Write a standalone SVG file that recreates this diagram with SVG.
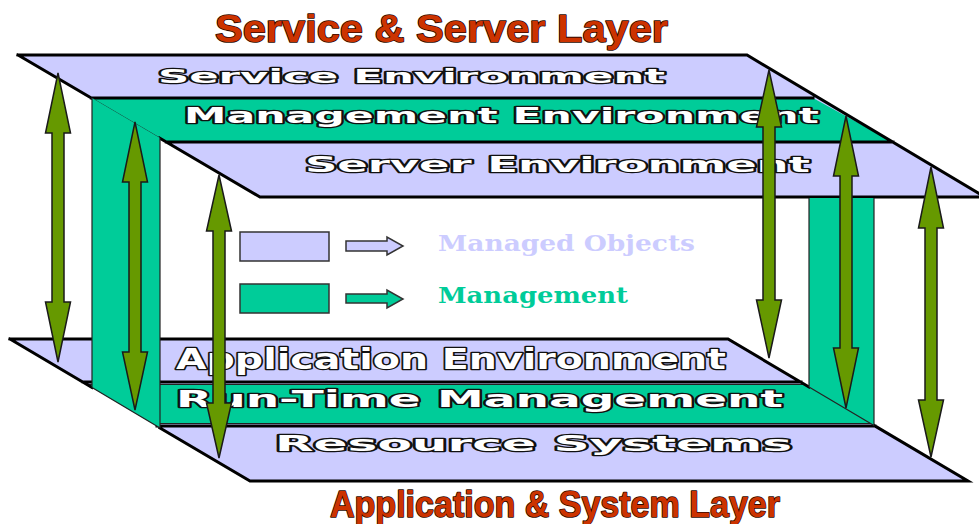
<svg xmlns="http://www.w3.org/2000/svg" width="979" height="524" viewBox="0 0 979 524">
  <style>
    .obj { fill: #CCCCFF; }
    .mgmt { fill: #00CC99; }
    .edge { fill: none; stroke: #000; stroke-width: 3; stroke-linecap: square; }
    .thin { fill: none; stroke: #222; stroke-width: 1.2; }
    .slab-label { font-family: "DejaVu Sans", "Liberation Sans", sans-serif; font-weight: bold; fill: #fff; stroke: #111; stroke-width: 2.6; paint-order: stroke; stroke-linejoin: round; }
    .layer-title { font-family: "Liberation Sans Narrow", "Liberation Sans", sans-serif; font-weight: bold; fill: #CC3300; stroke: #2a0800; stroke-width: 1.6; paint-order: stroke; stroke-linejoin: round; }
    .legend-box { stroke: #333; stroke-width: 1.5; }
    .legend-text { font-family: "DejaVu Serif", "Liberation Serif", serif; font-weight: bold; }
    .link { fill: #669900; stroke: #1a1a1a; stroke-width: 1.5; stroke-linejoin: miter; }
  </style>

  <!-- layer titles -->
  <g id="title-service-server">
    <text class="layer-title" x="215" y="42" font-size="39" textLength="453" lengthAdjust="spacingAndGlyphs">Service &amp; Server Layer</text>
  </g>
  <g id="title-application-system">
    <text class="layer-title" x="330" y="517" font-size="37" textLength="450" lengthAdjust="spacingAndGlyphs">Application &amp; System Layer</text>
  </g>

  <!-- upper slab: service / management / server -->
  <g id="service-environment">
    <polygon class="obj" points="18,55 747,55 985,197 260,197"/>
    <text class="slab-label" x="158" y="83" font-size="20" textLength="507" lengthAdjust="spacingAndGlyphs">Service Environment</text>
  </g>
  <g id="management-environment">
    <polygon class="mgmt" points="91.3,98 813,98 893,142 166.3,142"/>
    <text class="slab-label" x="184" y="123" font-size="21" textLength="635" lengthAdjust="spacingAndGlyphs">Management Environment</text>
  </g>
  <g id="server-environment">
    <text class="slab-label" x="305" y="172" font-size="21" textLength="505" lengthAdjust="spacingAndGlyphs">Server Environment</text>
  </g>
  <g id="upper-outline">
    <path class="edge" d="M18,55 H747 L985,197 M18,55 L91.3,98 M159.5,138 L260,197 H985 M91.3,98 H813 M166.3,142 H893"/>
    <path class="thin" d="M91.3,98 L159.5,138"/>
  </g>

  <!-- lower slab: application / run-time management / resources -->
  <g id="application-environment">
    <polygon class="obj" points="10,339 728,339 968,481 250,481"/>
    <text class="slab-label" x="176" y="369" font-size="28" textLength="550" lengthAdjust="spacingAndGlyphs">Application Environment</text>
  </g>
  <g id="run-time-management">
    <polygon class="mgmt" points="86,384 804,384 871.7,424 153.7,424"/>
    <path class="thin" d="M86,384.5 H804 M153.7,423.5 H871.7"/>
    <text class="slab-label" x="176" y="407" font-size="23" textLength="607" lengthAdjust="spacingAndGlyphs">Run-Time Management</text>
  </g>
  <g id="resource-systems">
    <text class="slab-label" x="275" y="451" font-size="22" textLength="517" lengthAdjust="spacingAndGlyphs">Resource Systems</text>
  </g>
  <g id="lower-outline">
    <path class="edge" d="M10,339 H728 L809,387 M874,425.4 L968,481 H250 L160,428 M10,339 L92,387.5 M83,382 H801 M157,426 H875"/>
  </g>

  <!-- management pillars linking both slabs -->
  <g id="left-pillar">
    <polygon class="mgmt" points="92,98 160,138 160,428 92,387.5"/>
    <path class="thin" d="M92,98 V387.5 M160,138 V428 M92,387.5 L160,428"/>
  </g>
  <g id="right-pillar">
    <polygon class="mgmt" points="809,198 874,198 874,425.4 809,387"/>
    <path class="thin" d="M809,198 V387 M874,198 V425.4 M809,387 L874,425.4"/>
  </g>

  <!-- legend -->
  <g id="legend-managed-objects">
    <rect class="obj legend-box" x="240" y="232" width="89" height="29"/>
    <path class="obj legend-box" d="M346,241 H387 V237 L403,246 L387,255 V251 H346 Z"/>
    <text class="legend-text" x="438" y="251" font-size="22" fill="#CCCCFF" textLength="257" lengthAdjust="spacingAndGlyphs">Managed Objects</text>
  </g>
  <g id="legend-management">
    <rect class="mgmt legend-box" x="240" y="284" width="89" height="29"/>
    <path class="mgmt legend-box" d="M346,294 H387 V290 L403,299 L387,308 V303 H346 Z"/>
    <text class="legend-text" x="438" y="303" font-size="22" fill="#00CC99" textLength="190" lengthAdjust="spacingAndGlyphs">Management</text>
  </g>

  <!-- two-way links between the layers -->
  <g id="connectors">
    <path class="link" d="M58,73 L70.5,133 L64,133 L64,302 L70.5,302 L58,362 L45.5,302 L52,302 L52,133 L45.5,133 Z"/>
    <path class="link" d="M135,122 L147.5,182 L141,182 L141,352 L147.5,352 L135,410 L122.5,352 L129,352 L129,182 L122.5,182 Z"/>
    <path class="link" d="M219,175 L231.5,231 L225,231 L225,403 L231.5,403 L219,458 L206.5,403 L213,403 L213,231 L206.5,231 Z"/>
    <path class="link" d="M769,70 L781.5,127 L775,127 L775,300 L781.5,300 L769,358 L756.5,300 L763,300 L763,127 L756.5,127 Z"/>
    <path class="link" d="M846,116 L858.5,176 L852,176 L852,348 L858.5,348 L846,408 L833.5,348 L840,348 L840,176 L833.5,176 Z"/>
    <path class="link" d="M931,167 L943.5,228 L937,228 L937,400 L943.5,400 L931,457 L918.5,400 L925,400 L925,228 L918.5,228 Z"/>
  </g>
</svg>
